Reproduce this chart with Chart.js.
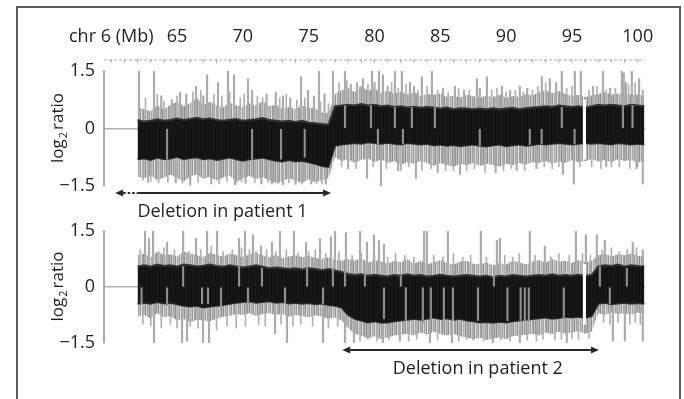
<!DOCTYPE html>
<html>
<head>
<meta charset="utf-8">
<title>chr 6 log2 ratio</title>
<script src="https://cdn.jsdelivr.net/npm/chart.js@4.4.1/dist/chart.umd.min.js"></script>
<style>
  html, body { margin: 0; padding: 0; background: #fff; }
  body { position: relative; width: 684px; height: 399px; overflow: hidden; }
  #frame { position: absolute; left: 16px; top: 6px; width: 661px; height: 440px; border: 2px solid #5c5c5c; }
  canvas { position: absolute; left: 0; }
  #panel1 { top: 0; }
  #panel2 { top: 200px; }
</style>
</head>
<body>
<div id="frame"></div>
<canvas id="panel1" width="684" height="226"></canvas>
<canvas id="panel2" width="684" height="199"></canvas>
<script>
// bin positions on chr 6 (Mb)
const binMb = [62,62.5,63,63.5,64,64.5,65,65.5,66,66.5,67,67.5,68,68.5,69,69.5,70,70.5,71,71.5,72,72.5,73,73.5,74,74.5,75,75.5,76,76.5,
  77,77.5,78,78.5,79,79.5,80,80.5,81,81.5,82,82.5,83,83.5,84,84.5,85,85.5,86,86.5,87,87.5,88,88.5,89,89.5,90,90.5,91,91.5,92,92.5,93,93.5,94,94.5,95,95.5,96,96.5,97,97.5,98,98.5,99,99.5,100,100.5];

// patient 1 - dense (black) band and light fringe, log2 ratio
const p1CoreHi = [0.22,0.18,0.2,0.24,0.2,0.22,0.26,0.22,0.25,0.28,0.24,0.26,0.22,0.2,0.23,0.25,0.2,0.22,0.24,0.27,0.22,0.2,0.18,0.2,0.17,0.2,0.15,0.14,0.12,0.1,
  0.58,0.6,0.62,0.6,0.64,0.6,0.62,0.58,0.6,0.56,0.58,0.55,0.57,0.54,0.56,0.55,0.52,0.55,0.5,0.53,0.52,0.5,0.52,0.5,0.53,0.5,0.52,0.54,0.5,0.53,0.55,0.56,0.58,0.56,0.6,0.58,0.56,0.58,0.55,0.58,0.62,0.6,0.62,0.6,0.58,0.62,0.6,0.58];
const p1CoreLo = [-0.8,-0.78,-0.82,-0.76,-0.8,-0.78,-0.74,-0.8,-0.77,-0.75,-0.8,-0.78,-0.82,-0.79,-0.76,-0.8,-0.84,-0.8,-0.78,-0.76,-0.8,-0.84,-0.86,-0.82,-0.86,-0.84,-0.88,-0.92,-0.98,-1.0,
  -0.45,-0.42,-0.4,-0.38,-0.4,-0.36,-0.38,-0.4,-0.37,-0.4,-0.42,-0.38,-0.4,-0.42,-0.4,-0.44,-0.42,-0.45,-0.43,-0.46,-0.44,-0.42,-0.45,-0.47,-0.44,-0.42,-0.46,-0.44,-0.42,-0.45,-0.43,-0.4,-0.42,-0.4,-0.38,-0.4,-0.42,-0.4,-0.38,-0.4,-0.38,-0.4,-0.42,-0.38,-0.4,-0.42,-0.4,-0.42];
const p1FringeHi = [0.55,0.5,0.45,0.6,0.5,0.62,0.7,0.58,0.66,0.8,0.62,0.7,0.6,0.55,0.68,0.6,0.56,0.66,0.6,0.72,0.58,0.62,0.52,0.56,0.5,0.6,0.55,0.52,0.42,0.4,
  0.9,1.0,1.05,0.95,1.1,0.98,1.05,0.92,1.0,0.9,0.96,0.88,0.95,0.85,0.9,0.88,0.92,0.82,0.86,0.8,0.88,0.84,0.8,0.86,0.82,0.88,0.8,0.85,0.82,0.9,0.86,0.95,1.0,0.92,0.98,0.9,0.85,0.88,0.82,0.86,0.9,0.95,0.88,0.92,0.86,0.9,0.88,0.85];
const p1FringeLo = [-1.25,-1.3,-1.22,-1.35,-1.28,-1.2,-1.3,-1.38,-1.25,-1.2,-1.32,-1.26,-1.36,-1.28,-1.22,-1.4,-1.3,-1.24,-1.32,-1.27,-1.35,-1.42,-1.38,-1.3,-1.36,-1.42,-1.33,-1.4,-1.35,-1.3,
  -0.75,-0.85,-0.8,-0.9,-0.82,-0.78,-0.88,-0.8,-0.9,-0.85,-0.95,-0.88,-0.92,-0.85,-0.9,-0.98,-0.9,-0.95,-1.0,-0.92,-0.96,-0.9,-0.98,-0.92,-0.95,-1.0,-0.92,-0.96,-0.9,-0.94,-0.88,-0.9,-0.85,-0.92,-0.86,-0.9,-0.82,-0.88,-0.85,-0.8,-0.86,-0.82,-0.88,-0.8,-0.85,-0.82,-0.88,-0.85];
// single outlying probes
const p1SpikeMb = [62.11,63.25,63.8,64.6,65.23,65.7,66.44,67.0,67.28,68.11,68.87,69.33,70.39,70.7,71.8,72.5,73.05,73.6,74.42,74.95,75.4,75.78,76.2,
  76.85,77.76,78.2,78.67,79.12,79.81,80.0,80.34,80.64,81.0,81.55,82.08,82.69,83.0,83.6,84.36,85.2,86.11,86.8,87.78,88.0,88.54,89.68,90.3,91.04,91.6,92.71,93.32,93.8,94.23,95.22,95.68,96.6,97.35,97.9,98.79,98.94,99.1,99.55,100.1,100.38,
  62.8,64.9,66.0,67.6,69.4,70.2,71.4,72.2,73.05,74.0,75.2,76.3,78.0,79.43,80.49,81.8,83.15,84.8,86.5,89.2,90.8,92.3,94.31,95.14,97.6,99.9,100.38];
const p1SpikeVal = [1.5,1.5,0.85,0.75,0.95,0.9,1.1,0.85,1.4,1.2,1.5,1.4,1.3,1.0,0.9,0.95,0.85,0.8,1.35,1.0,0.85,1.5,0.9,
  1.5,1.5,1.15,1.2,1.3,1.5,1.2,1.5,1.4,1.1,1.5,1.5,1.2,1.1,1.35,1.5,1.05,1.1,1.0,1.3,1.05,1.35,1.1,1.0,1.1,1.05,1.35,1.3,1.2,1.5,1.5,1.5,1.1,1.5,1.05,1.5,1.45,1.2,1.5,1.3,1.0,
  -1.4,-1.42,-1.48,-1.45,-1.47,-1.43,-1.45,-1.45,-1.47,-1.46,-1.45,-1.45,-1.05,-1.3,-1.5,-1.1,-1.3,-1.15,-1.2,-1.15,-1.1,-1.05,-1.2,-1.45,-1.0,-1.05,-1.45];
// smaller probes poking out of the fringe
const p1NoiseMb = [62.6,63.5,64.0,65.0,66.2,66.8,67.8,68.4,69.0,69.8,70.1,71.1,71.5,72.8,73.3,74.1,74.7,75.9,76.5,
  77.3,77.9,78.9,79.5,81.3,81.8,82.4,83.3,84.0,84.8,85.6,86.4,87.2,88.9,89.3,90.0,90.7,91.3,92.0,92.4,93.0,94.6,95.0,96.3,96.9,97.6,98.3,99.3,99.8,
  62.4,63.0,63.6,64.3,65.4,66.6,68.2,68.8,69.9,70.9,71.9,72.7,73.5,74.5,75.6,76.0,
  77.5,78.6,79.9,80.9,82.0,82.6,83.6,84.3,85.4,86.0,87.0,87.6,88.4,89.8,90.4,91.4,92.9,93.5,94.0,95.6,96.5,97.2,98.0,98.6,99.4,100.0];
const p1NoiseVal = [0.8,0.9,0.7,0.85,0.95,1.0,0.9,0.85,0.95,0.8,0.9,0.85,0.8,0.8,0.9,0.75,0.8,0.7,0.65,
  1.2,1.25,1.1,1.15,1.2,1.05,1.15,1.0,1.1,1.0,0.95,1.05,1.0,1.0,1.05,0.95,1.0,0.95,1.0,1.1,1.2,1.05,1.1,1.0,1.1,1.0,1.05,1.15,1.2,
  -1.35,-1.38,-1.42,-1.4,-1.43,-1.4,-1.44,-1.38,-1.4,-1.42,-1.4,-1.44,-1.42,-1.45,-1.44,-1.45,
  -1.0,-1.05,-1.0,-1.05,-1.1,-1.0,-1.1,-1.05,-1.1,-1.1,-1.1,-1.05,-1.15,-1.1,-1.05,-1.1,-1.0,-1.05,-1.0,-1.0,-1.0,-1.05,-1.0,-1.0,-1.05,-1.0];
// light probe lines seen inside the dense band
const p1LineMb = [64.24,70.7,72.9,74.7,77.76,79.73,80.26,81.55,82.16,82.84,84.59,88.0,91.8,92.7,94.23,95.2,98.87,99.6];
const p1LineVal = [-0.8,-0.8,-0.8,-0.75,0.6,0.6,-0.4,0.55,-0.4,0.55,0.55,-0.45,-0.42,-0.4,0.55,-0.4,0.6,0.6];

// patient 2
const p2CoreHi = [0.55,0.58,0.55,0.6,0.56,0.58,0.55,0.6,0.58,0.55,0.57,0.6,0.56,0.54,0.58,0.55,0.52,0.55,0.58,0.54,0.5,0.52,0.5,0.48,0.5,0.47,0.5,0.48,0.45,0.48,0.44,0.4,
  0.35,0.32,0.34,0.3,0.33,0.3,0.28,0.32,0.3,0.34,0.3,0.32,0.28,0.3,0.33,0.3,0.28,0.3,0.32,0.3,0.28,0.3,0.26,0.3,0.28,0.32,0.3,0.28,0.3,0.32,0.3,0.34,0.3,0.32,0.3,0.33,0.3,0.32,
  0.55,0.58,0.56,0.6,0.55,0.58,0.56,0.55];
const p2CoreLo = [-0.45,-0.42,-0.45,-0.4,-0.44,-0.42,-0.46,-0.5,-0.52,-0.5,-0.55,-0.52,-0.5,-0.48,-0.45,-0.42,-0.4,-0.38,-0.42,-0.4,-0.38,-0.42,-0.4,-0.44,-0.42,-0.45,-0.43,-0.46,-0.44,-0.48,-0.5,-0.55,
  -0.75,-0.85,-0.9,-0.95,-0.92,-0.96,-0.95,-0.92,-0.9,-0.88,-0.85,-0.88,-0.85,-0.82,-0.86,-0.84,-0.88,-0.85,-0.9,-0.92,-0.95,-0.94,-0.96,-0.93,-0.95,-0.92,-0.9,-0.88,-0.86,-0.84,-0.82,-0.85,-0.83,-0.8,-0.82,-0.8,-0.82,-0.78,
  -0.45,-0.42,-0.46,-0.44,-0.42,-0.45,-0.43,-0.45];
const p2FringeHi = [0.85,0.9,0.8,0.95,0.85,0.88,0.82,0.95,0.9,0.85,0.8,0.92,0.86,0.82,0.9,0.85,0.8,0.88,0.92,0.85,0.8,0.86,0.78,0.82,0.85,0.8,0.84,0.78,0.75,0.8,0.72,0.7,
  0.75,0.7,0.78,0.65,0.72,0.68,0.62,0.7,0.66,0.74,0.62,0.7,0.6,0.66,0.72,0.64,0.6,0.68,0.7,0.62,0.6,0.66,0.58,0.64,0.6,0.7,0.66,0.6,0.68,0.72,0.65,0.75,0.68,0.7,0.64,0.72,0.66,0.7,
  0.85,0.9,0.82,0.88,0.85,0.9,0.84,0.82];
const p2FringeLo = [-0.8,-0.75,-0.85,-0.7,-0.82,-0.78,-0.9,-0.85,-0.95,-0.88,-0.9,-0.92,-0.85,-0.8,-0.78,-0.72,-0.75,-0.7,-0.78,-0.72,-0.7,-0.75,-0.72,-0.8,-0.75,-0.78,-0.82,-0.76,-0.8,-0.85,-0.82,-0.9,
  -1.1,-1.25,-1.3,-1.38,-1.32,-1.4,-1.35,-1.3,-1.28,-1.25,-1.3,-1.22,-1.28,-1.2,-1.26,-1.3,-1.25,-1.32,-1.35,-1.4,-1.36,-1.42,-1.38,-1.35,-1.4,-1.32,-1.3,-1.28,-1.25,-1.3,-1.22,-1.26,-1.2,-1.25,-1.22,-1.18,-1.25,-1.2,
  -0.7,-0.75,-0.68,-0.72,-0.7,-0.74,-0.68,-0.72];
const p2SpikeMb = [62.57,62.87,63.18,64.24,65.46,66.44,67.28,68.04,69.71,70.16,70.77,71.38,72.21,72.82,73.88,74.8,75.86,76.69,77.0,77.83,78.9,79.43,79.96,80.34,80.72,
  83.76,83.98,85.58,88.08,89.3,89.53,91.8,92.94,95.3,96.06,96.89,97.5,99.62,100.38,
  63.25,65.38,65.76,66.97,67.43,72.44,73.35,76.09,77.76,78.44,80.64,81.93,84.21,85.88,88.99,91.04,94.61,98.11,99.02,100.38];
const p2SpikeVal = [1.5,1.3,1.5,1.2,1.5,1.3,1.5,1.5,1.3,1.5,1.4,1.1,1.2,1.5,1.5,1.2,1.3,1.35,1.5,1.45,1.5,1.2,1.4,1.25,1.15,
  1.5,1.5,1.5,1.5,1.25,1.3,1.5,1.1,1.5,1.4,1.4,1.25,1.2,1.0,
  -1.5,-1.5,-1.45,-1.5,-1.5,-1.25,-1.5,-1.5,-1.5,-1.5,-1.5,-1.45,-1.5,-1.5,-1.5,-1.5,-1.5,-1.45,-1.45,-1.45];
const p2NoiseMb = [62.2,63.6,64.0,64.8,65.9,66.8,67.6,68.5,69.2,69.9,70.5,71.0,71.8,72.5,73.3,74.2,75.0,75.5,76.3,77.3,
  78.3,79.0,80.0,81.0,81.6,82.3,83.0,84.5,85.2,86.0,86.7,87.3,88.5,89.9,90.5,91.0,92.2,93.4,94.0,94.8,95.8,96.4,
  97.3,98.0,98.6,99.2,99.9,
  62.4,63.0,63.8,64.5,65.0,66.0,66.6,68.0,68.8,69.5,70.2,71.2,71.7,72.9,73.8,74.4,75.3,76.5,77.2,
  78.9,79.5,80.2,81.1,82.6,83.2,84.8,86.4,87.0,87.5,88.3,89.6,90.3,91.6,92.3,92.8,93.7,94.2,95.0,95.5,96.3,
  97.4,97.9,98.5,99.4,99.8,100.2];
const p2NoiseVal = [1.0,0.95,1.05,1.0,0.95,1.0,1.1,0.95,1.0,1.05,1.0,0.95,1.0,0.95,1.0,0.9,0.95,1.0,0.9,0.95,
  0.85,0.9,0.85,0.8,0.9,0.85,0.8,0.85,0.8,0.9,0.8,0.85,0.8,0.85,0.8,0.9,0.85,0.8,0.9,0.85,0.9,0.85,
  1.0,1.05,0.95,1.0,1.05,
  -1.0,-1.05,-1.1,-1.0,-1.1,-1.05,-1.1,-1.15,-1.05,-1.1,-1.05,-1.0,-1.05,-1.0,-1.05,-1.0,-1.05,-1.1,-1.05,
  -1.45,-1.4,-1.45,-1.42,-1.45,-1.4,-1.42,-1.45,-1.4,-1.42,-1.45,-1.42,-1.45,-1.42,-1.45,-1.4,-1.42,-1.4,-1.38,-1.4,-1.38,
  -0.95,-1.0,-0.95,-1.0,-0.95,-1.0];
const p2LineMb = [62.3,64.24,65.46,66.9,67.35,68.34,69.71,70.39,71.45,73.2,74.88,76.09,76.84,77.76,79.27,80.72,82.0,82.38,83.67,84.28,85.27,85.96,87.86,89.07,90.1,91.1,91.42,91.72,94.38,97.12,97.88,99.17];
const p2LineVal = [-0.45,-0.5,0.55,-0.45,-0.45,-0.5,0.55,-0.45,0.5,-0.45,0.5,-0.45,0.5,0.45,0.35,-0.85,0.3,-0.9,-0.95,-0.9,-0.9,-0.9,-0.9,0.3,-0.9,-0.9,-0.9,-0.9,-0.85,0.55,-0.45,0.5];

// probe-free gap
const gapMb = [95.95];
const p1GapLo = [-0.8], p1GapHi = [0.75];
const p2GapLo = [-1.0], p2GapHi = [0.6];

const yTicks = [-1.5, 0, 1.5];
const xLabelMb = [60, 65, 70, 75, 80, 85, 90, 95, 100];
const xLabelText = ['chr 6 (Mb)', '65', '70', '75', '80', '85', '90', '95', '100'];

// deleted regions: [arrow tip, end of dotted part, arrow tip]
const arrow1Mb = [60.3, 62.05, 76.7];
const arrow2Mb = [77.55, 77.55, 97.05];
const deletionText = ['Deletion in patient 1', 'Deletion in patient 2'];
const deletionTextMb = [68.45, 87.85];

const TEXT = '#1f1f1f';
Chart.defaults.font.family = "'Open Sans', sans-serif";
Chart.defaults.font.size = 18;
Chart.defaults.color = TEXT;

// vertical hairline texture for the probe clouds
function stripes(colors) {
  const c = document.createElement('canvas');
  c.width = colors.length; c.height = 1;
  const g = c.getContext('2d');
  colors.forEach((col, i) => { g.fillStyle = col; g.fillRect(i, 0, 1, 1); });
  return g.createPattern(c, 'repeat');
}
const fringeFill = stripes(['#9a9a9a','#bdbdbd','#8c8c8c','#d2d2d2','#a3a3a3','#b4b4b4','#929292','#dcdcdc','#a9a9a9','#c5c5c5','#979797','#e2e2e2','#a0a0a0']);
const coreFill = stripes(['#131313','#161616','#101010','#1a1a1a','#141414','#121212','#171717']);

function pts(xs, ys) { return xs.map((x, i) => ({ x: x, y: ys[i] })); }
function sticks(xs, ys) { return xs.map((x, i) => ({ x: x, y: [0, ys[i]] })); }
function spans(xs, lo, hi) { return xs.map((x, i) => ({ x: x, y: [lo[i], hi[i]] })); }

function panelDatasets(p) {
  const band = { type: 'line', borderWidth: 0, pointRadius: 0 };
  return [
    Object.assign({}, band, { data: pts(binMb, p.fringeHi), fill: '+1', backgroundColor: fringeFill, order: 7 }),
    Object.assign({}, band, { data: pts(binMb, p.fringeLo), fill: false, order: 7 }),
    { type: 'bar', data: sticks(p.noiseMb, p.noiseVal), backgroundColor: '#b0b0b0', barThickness: 1, grouped: false, order: 6 },
    { type: 'bar', data: sticks(p.spikeMb, p.spikeVal), backgroundColor: '#ababab', barThickness: 1.5, grouped: false, order: 5 },
    Object.assign({}, band, { data: pts(binMb, p.coreHi), fill: '+1', backgroundColor: coreFill, borderColor: '#333333', borderWidth: 2, order: 4 }),
    Object.assign({}, band, { data: pts(binMb, p.coreLo), fill: false, borderColor: '#333333', borderWidth: 2, order: 4 }),
    { type: 'bar', data: sticks(p.lineMb, p.lineVal), backgroundColor: '#8e8e8e', barThickness: 1.5, grouped: false, order: 3 },
    { type: 'bar', data: spans(gapMb, p.gapLo, p.gapHi), backgroundColor: '#ffffff', barThickness: 2.5, grouped: false, order: 2 }
  ];
}

function scalesFor(top) {
  const x = {
    type: 'linear', position: 'top', display: top, min: 59.45, max: 100.55, offset: false,
    grid: { display: false, offset: false }, border: { display: false },
    ticks: {
      stepSize: 1, includeBounds: false, autoSkip: false, maxRotation: 0, minRotation: 0, padding: 15,
      callback: v => { const i = xLabelMb.indexOf(v); return i < 0 ? '' : xLabelText[i]; }
    }
  };
  if (top) x.afterFit = s => { s.height = 71; };
  return {
    x: x,
    y: {
      min: -1.5, max: 1.5, z: 1,
      afterBuildTicks: s => { s.ticks = yTicks.map(v => ({ value: v })); },
      ticks: { padding: 9, callback: v => (v < 0 ? '\u2212' + Math.abs(v) : String(v)) },
      grid: { drawTicks: false, lineWidth: 1.5,
        color: c => (c.tick && c.tick.value === 0 ? 'rgba(150,150,150,0.75)' : 'rgba(0,0,0,0)') },
      border: { display: true, color: '#ababab', width: 2 },
      afterFit: s => { s.width = 104; }
    }
  };
}

const yTitle = {
  id: 'yTitle',
  afterDraw(chart) {
    const ctx = chart.ctx, y0 = chart.scales.y.getPixelForValue(0);
    const big = "17px 'Open Sans'", small = "11px 'Open Sans'";
    ctx.save();
    ctx.translate(63, y0);
    ctx.rotate(-Math.PI / 2);
    ctx.fillStyle = TEXT;
    ctx.textBaseline = 'alphabetic';
    ctx.font = big;
    const w1 = ctx.measureText('log').width, w3 = ctx.measureText('ratio').width;
    ctx.font = small;
    const w2 = ctx.measureText('2').width + 2;
    let x = -(w1 + w2 + w3) / 2;
    ctx.font = big; ctx.fillText('log', x, 0); x += w1 + 1;
    ctx.font = small; ctx.fillText('2', x, 4); x += w2;
    ctx.font = big; ctx.fillText('ratio', x, 0);
    ctx.restore();
  }
};

const topRule = {
  id: 'topRule',
  afterDraw(chart) {
    const ctx = chart.ctx, sx = chart.scales.x, a = chart.chartArea, y = a.top - 11;
    ctx.save();
    ctx.strokeStyle = '#c8c8c8';
    ctx.lineWidth = 1.5;
    ctx.setLineDash([3, 2]);
    ctx.beginPath(); ctx.moveTo(a.left, y); ctx.lineTo(a.right, y); ctx.stroke();
    ctx.setLineDash([]);
    ctx.strokeStyle = '#aaaaaa';
    ctx.lineWidth = 1;
    sx.ticks.forEach(t => {
      const px = sx.getPixelForValue(t.value);
      ctx.beginPath(); ctx.moveTo(px, y - 1); ctx.lineTo(px, y + 3); ctx.stroke();
    });
    ctx.restore();
  }
};

function deletionArrow(mb, idx) {
  return {
    id: 'deletion' + idx,
    afterDraw(chart) {
      const ctx = chart.ctx, sx = chart.scales.x, y = chart.chartArea.bottom + 7;
      const a = sx.getPixelForValue(mb[0]), b = sx.getPixelForValue(mb[1]), c = sx.getPixelForValue(mb[2]);
      const head = 8;
      ctx.save();
      ctx.strokeStyle = '#262626';
      ctx.fillStyle = '#262626';
      ctx.lineWidth = 2;
      if (b > a + head) {
        ctx.setLineDash([2.5, 2]);
        ctx.beginPath(); ctx.moveTo(a + head, y); ctx.lineTo(b, y); ctx.stroke();
        ctx.setLineDash([]);
      }
      ctx.beginPath(); ctx.moveTo(Math.max(b, a + head), y); ctx.lineTo(c - head, y); ctx.stroke();
      [[a, 1], [c, -1]].forEach(([px, dir]) => {
        ctx.beginPath();
        ctx.moveTo(px, y);
        ctx.lineTo(px + dir * head, y - 3.5);
        ctx.lineTo(px + dir * head, y + 3.5);
        ctx.closePath();
        ctx.fill();
      });
      ctx.fillStyle = TEXT;
      ctx.font = "18px 'Open Sans'";
      ctx.textAlign = 'center';
      ctx.textBaseline = 'middle';
      ctx.fillText(deletionText[idx], sx.getPixelForValue(deletionTextMb[idx]), chart.chartArea.bottom + 26);
      ctx.restore();
    }
  };
}

function makePanel(id, p, top, pad, extra) {
  return new Chart(document.getElementById(id), {
    type: 'line',
    data: { datasets: panelDatasets(p) },
    options: {
      responsive: false,
      animation: false,
      events: [],
      layout: { padding: pad },
      plugins: { legend: { display: false }, tooltip: { enabled: false } },
      scales: scalesFor(top)
    },
    plugins: [yTitle].concat(extra)
  });
}

makePanel('panel1', {
  coreHi: p1CoreHi, coreLo: p1CoreLo, fringeHi: p1FringeHi, fringeLo: p1FringeLo,
  spikeMb: p1SpikeMb, spikeVal: p1SpikeVal, noiseMb: p1NoiseMb, noiseVal: p1NoiseVal,
  lineMb: p1LineMb, lineVal: p1LineVal, gapLo: p1GapLo, gapHi: p1GapHi
}, true, { left: 0, top: 0, right: 39, bottom: 40 }, [topRule, deletionArrow(arrow1Mb, 0)]);

makePanel('panel2', {
  coreHi: p2CoreHi, coreLo: p2CoreLo, fringeHi: p2FringeHi, fringeLo: p2FringeLo,
  spikeMb: p2SpikeMb, spikeVal: p2SpikeVal, noiseMb: p2NoiseMb, noiseVal: p2NoiseVal,
  lineMb: p2LineMb, lineVal: p2LineVal, gapLo: p2GapLo, gapHi: p2GapHi
}, false, { left: 0, top: 31, right: 39, bottom: 56 }, [deletionArrow(arrow2Mb, 1)]);
</script>
</body>
</html>
